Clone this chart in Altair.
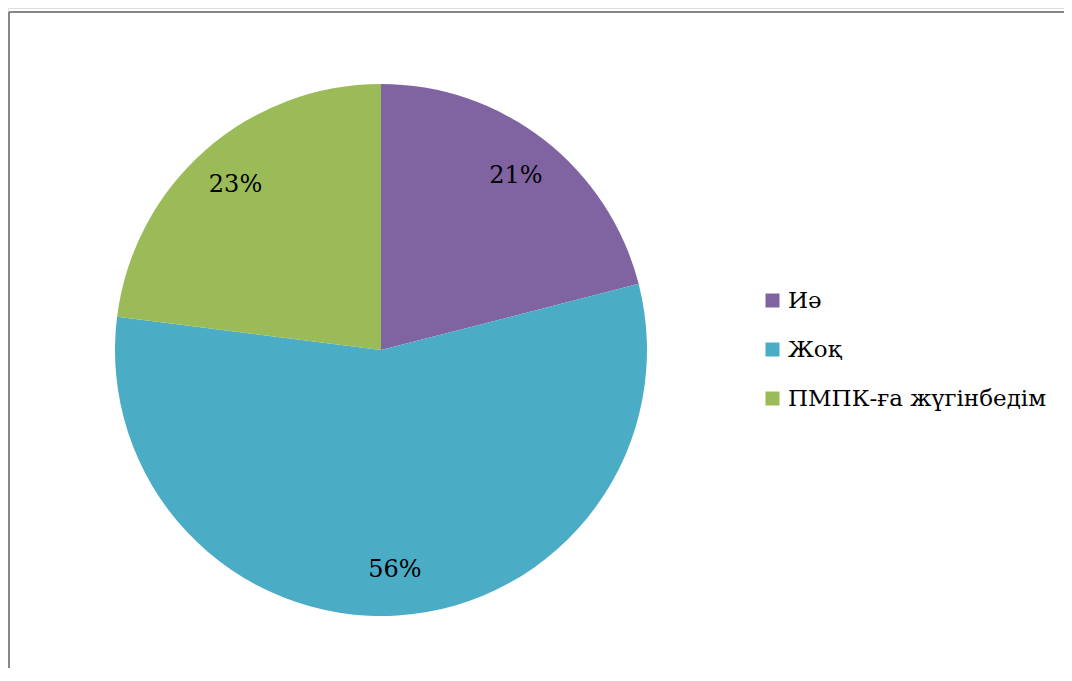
import altair as alt
import pandas as pd

categories = ["Иә", "Жоқ", "ПМПК-ға жүгінбедім"]
values = [21, 56, 23]
colors = ["#8064A2", "#4BACC6", "#9BBB59"]

df = pd.DataFrame({"cat": categories, "value": values, "order": [0, 1, 2]})

W, H = 1056, 660
CX, CY, R = 373, 342, 266
FONT = "DejaVu Serif"

base = alt.Chart(df).encode(
    theta=alt.Theta("value:Q", stack=True),
    order=alt.Order("order:Q"),
)

pie = base.mark_arc(x=CX, y=CY, outerRadius=R).encode(
    color=alt.Color(
        "cat:N",
        scale=alt.Scale(domain=categories, range=colors),
        sort=categories,
        legend=alt.Legend(
            title=None,
            orient="none",
            legendX=753,
            legendY=281,
            symbolType="square",
            symbolSize=196,
            symbolStrokeWidth=0,
            labelFont=FONT,
            labelFontSize=23,
            labelColor="#000000",
            labelOffset=4,
            rowPadding=25,
            labelLimit=400,
        ),
    )
)

labels = base.transform_calculate(lbl="datum.value + '%'").mark_text(
    x=CX, y=CY, radius=220, font=FONT, fontSize=24, color="#000000",
    align="center", baseline="middle"
).encode(text="lbl:N")

border_left = alt.Chart(df).mark_rule(color="#868686", strokeWidth=1.5).encode(
    x=alt.value(1), y=alt.value(4), y2=alt.value(H)
)
border_top = alt.Chart(df).mark_rule(color="#868686", strokeWidth=1.5).encode(
    x=alt.value(1), x2=alt.value(W), y=alt.value(4)
)

chart = alt.layer(border_left, border_top, pie, labels).properties(
    width=W, height=H, padding=0, autosize=alt.AutoSizeParams(type="none")
).configure_view(stroke=None).configure(background="white")

chart.save("out.html", embed_options={"renderer": "svg", "actions": False})
